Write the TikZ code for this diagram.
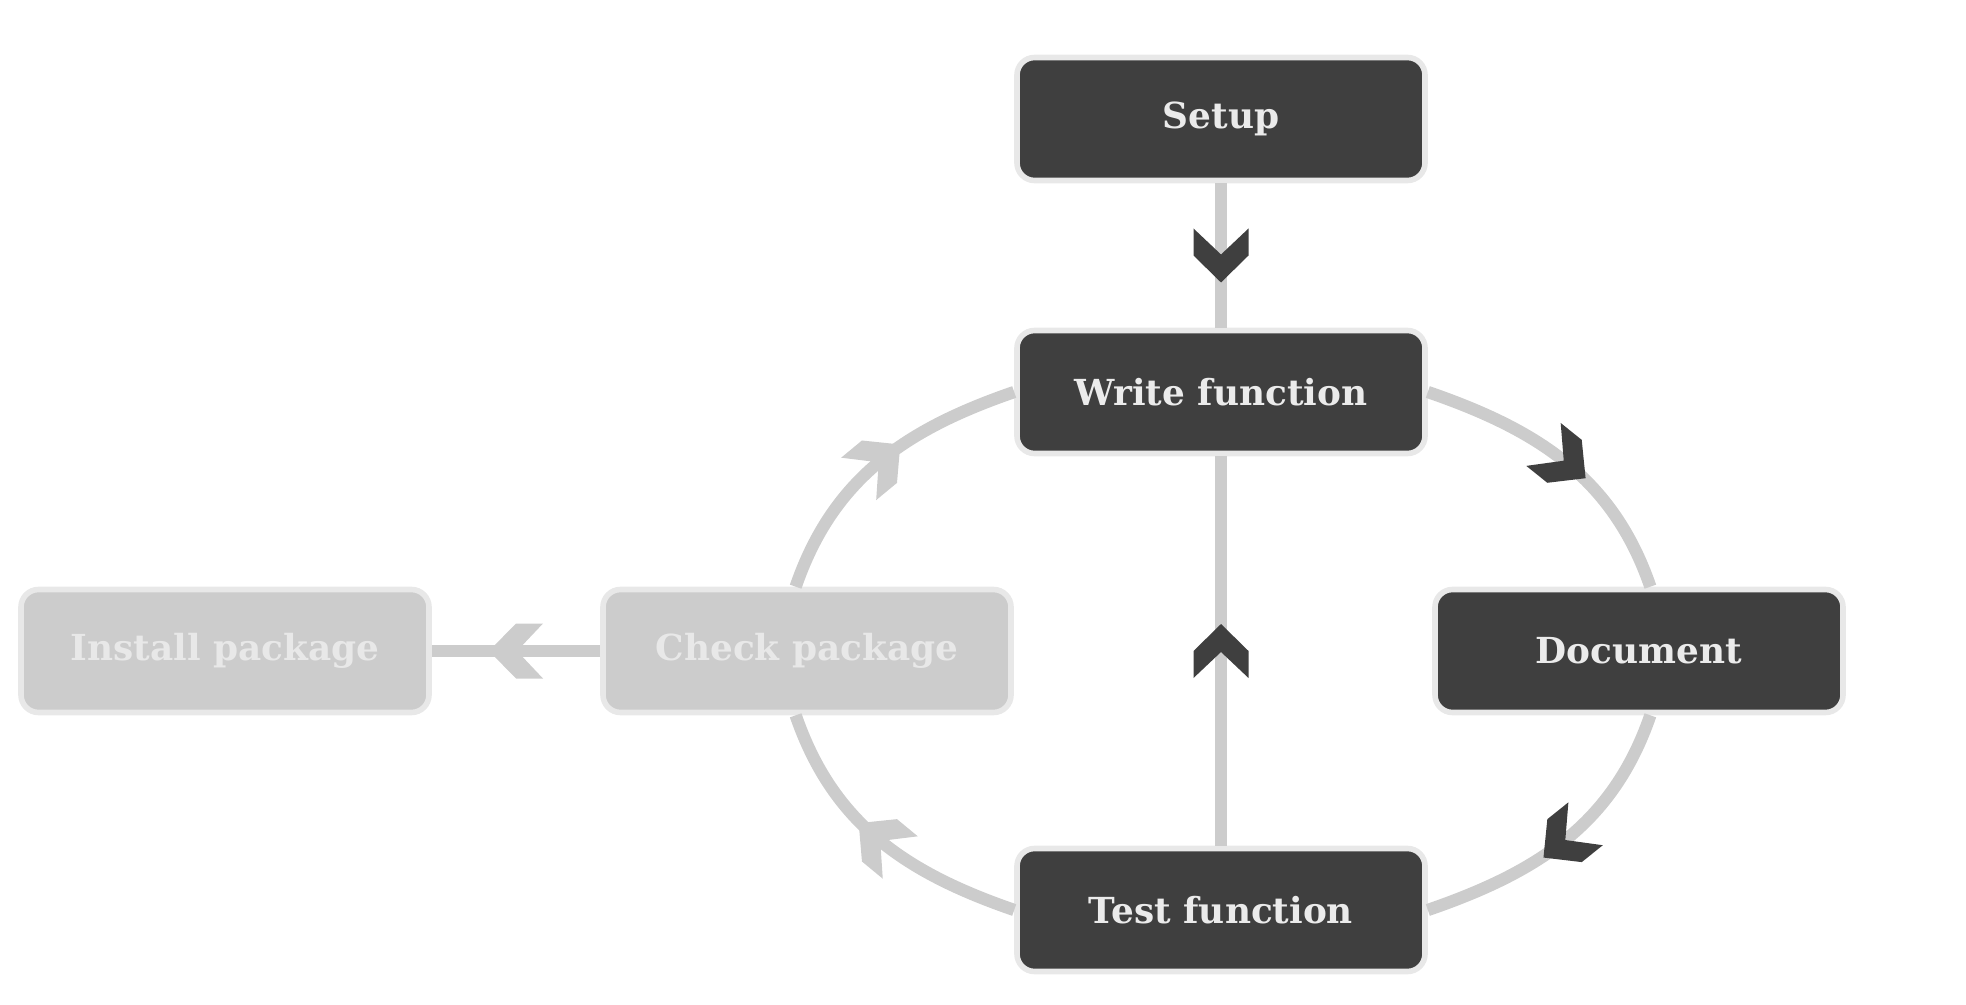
\documentclass[tikz,border=0pt]{standalone}
\usepackage{fontspec}
\setmainfont{DejaVu Serif}
\usepackage{tikz}
\usetikzlibrary{positioning, decorations.markings}
\definecolor{stepdark}{HTML}{3F3F3F}
\definecolor{steplight}{HTML}{CCCCCC}
\definecolor{rimgrey}{HTML}{E8E8E8}
\definecolor{labelgrey}{HTML}{EBEBEB}
\newcommand{\chevron}[1]{\fill[#1] (0.27,0) -- (0,0.275) -- (-0.27,0.275) -- (-0.01,0) -- (-0.27,-0.275) -- (0,-0.275) -- cycle;}

\begin{document}
\begin{tikzpicture}
		\tikzset{
		    stepbox/.style= {rectangle, rounded corners=5pt, draw=rimgrey, line width=1.6pt, fill=stepdark, text=labelgrey, minimum width=4.08cm, minimum height=1.23cm, font=\bfseries\fontsize{10.2}{12}\selectfont},
		    skipbox/.style= {stepbox, fill=steplight, text=rimgrey},
		    flow/.style= {draw=steplight, line width=3.5pt, postaction={decorate}, decoration={markings, mark=at position 0.5 with {\chevron{#1}}}},
		    flow/.default=stepdark,
		}
		\useasboundingbox (0,0) rectangle (19.66,10.04);
		
		\node[stepbox] (setup) at (12.21, 8.85) {Setup};
		\node[stepbox] (write) at (12.21, 6.12) {Write function};
		\node[stepbox] (doc) at (16.39, 3.53) {Document};
		\node[stepbox] (test) at (12.21, 0.94) {Test function};
		\node[skipbox] (check) at (8.07, 3.53) {Check package};
		\node[skipbox] (install) at (2.25, 3.53) {Install package};
		
		\draw
		(setup) edge[flow] (write)
		(write.east) edge[flow, out=-19, in=109] (doc.80)
		(doc.280) edge[flow, out=-109, in=19] (test.east)
		(test) edge[flow] (write)
		(test.west) edge[flow=steplight, out=161, in=-71] (check.260)
		(check.100) edge[flow=steplight, out=71, in=-161] (write.west)
		(check) edge[flow=steplight] (install);
	\end{tikzpicture}
\end{document}
